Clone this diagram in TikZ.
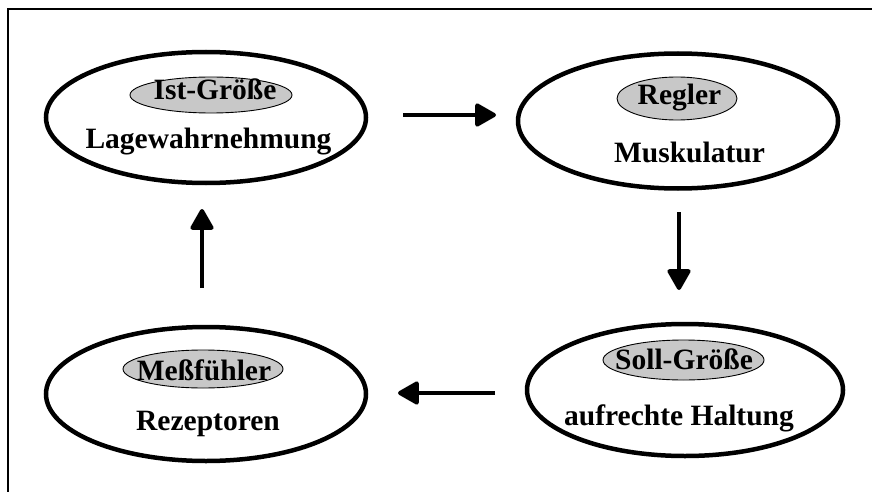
\documentclass[tikz,border=0pt]{standalone}
\usepackage{fontspec}
\setmainfont{Liberation Serif}
\usetikzlibrary{shapes.geometric,arrows.meta}
\definecolor{pillgray}{RGB}{200,200,200}
\tikzset{
  big/.style={ellipse,draw,line width=4.5pt,inner sep=0pt},
  pill/.style={ellipse,draw,line width=0.9pt,fill=pillgray,inner sep=0pt},
  lbl/.style={inner sep=0pt,anchor=base,font=\fontsize{29.5}{32}\selectfont\bfseries},
  flow/.style={line width=4pt,-{Triangle[length=23pt,width=25pt,round]}}
}
\begin{document}
\begin{tikzpicture}[x=1pt,y=-1pt]
\useasboundingbox (0,0) rectangle (872,492);
\coordinate (f1) at (8,492);
\coordinate (f2) at (8,9);
\coordinate (f3) at (872,9);
\draw[line width=1.3pt] (f1) -- (f2) -- (f3);

\node[big,minimum width=320pt,minimum height=131pt] (ist) at (206,117.5) {};
\node[big,minimum width=320pt,minimum height=135pt] (regler) at (678,121) {};
\node[big,minimum width=320pt,minimum height=134pt] (mess) at (206,394) {};
\node[big,minimum width=316pt,minimum height=132pt] (soll) at (685,390) {};

\node[pill,minimum width=162pt,minimum height=36pt] (istp) at (211,95) {};
\node[pill,minimum width=120pt,minimum height=43pt] (reglerp) at (677,98.5) {};
\node[pill,minimum width=160pt,minimum height=38pt] (messp) at (203,369) {};
\node[pill,minimum width=161pt,minimum height=40pt] (sollp) at (683.5,360) {};

\node[lbl] (istt) at (215,100) {Ist-Größe};
\node[lbl] (istl) at (208.5,148) {Lagewahrnehmung};
\node[lbl] (reglert) at (679.5,105) {Regler};
\node[lbl] (reglerl) at (689.5,162) {Muskulatur};
\node[lbl] (messt) at (204,380) {Meßfühler};
\node[lbl] (messl) at (208,430) {Rezeptoren};
\node[lbl] (sollt) at (684,369) {Soll-Größe};
\node[lbl] (solll) at (679,425) {aufrechte Haltung};

\coordinate (a1s) at (403,115);
\coordinate (a1e) at (496,115);
\coordinate (a2s) at (679,212);
\coordinate (a2e) at (679,290);
\coordinate (a3s) at (495,393);
\coordinate (a3e) at (398,393);
\coordinate (a4s) at (202,288);
\coordinate (a4e) at (202,209);
\draw[flow] (a1s) -- (a1e);
\draw[flow] (a2s) -- (a2e);
\draw[flow] (a3s) -- (a3e);
\draw[flow] (a4s) -- (a4e);
\end{tikzpicture}
\end{document}
